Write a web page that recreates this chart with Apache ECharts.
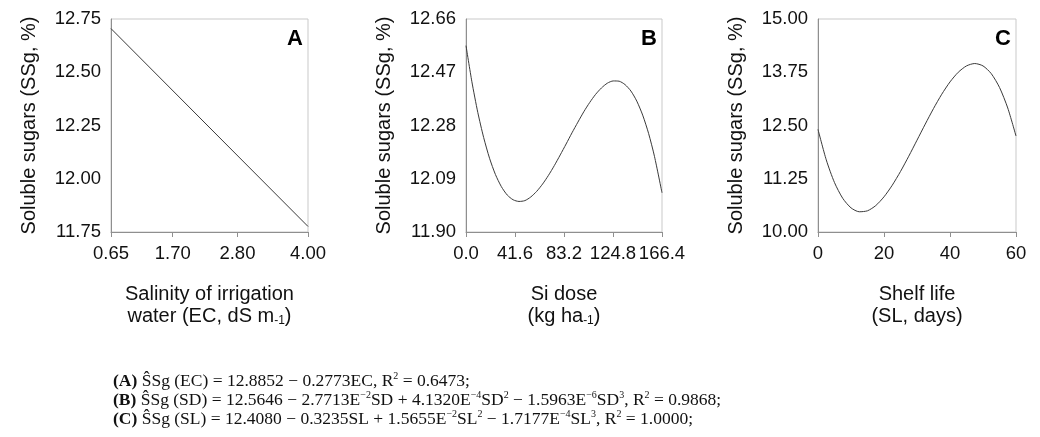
<!DOCTYPE html>
<html>
<head>
<meta charset="utf-8">
<style>
  html, body { margin: 0; padding: 0; background: #fff; }
  #main { width: 1040px; height: 437px; }
</style>
<script src="https://cdn.jsdelivr.net/npm/echarts@6/dist/echarts.min.js"></script>
</head>
<body>
<div id="main"></div>
<script>
// Panel A: salinity of irrigation water (EC, dS m-1)
const ecValues = [0.65, 4.00];
const ecSugar = [12.705, 11.776];
const ecTicksX = [0.65, 1.70, 2.80, 4.00];
const ecTicksY = [11.75, 12.00, 12.25, 12.50, 12.75];

// Panel B: Si dose (kg ha-1)
const siDose = [0, 5, 10, 15, 20, 25, 30, 35, 40, 45, 50, 55, 60, 65, 70, 75, 80, 85,
                90, 95, 100, 105, 110, 115, 120, 125, 130, 135, 140, 145, 150, 155, 160, 166.4];
const siSugar = [12.565, 12.436, 12.327, 12.237, 12.163, 12.105, 12.062, 12.032, 12.015, 12.009,
                 12.012, 12.025, 12.045, 12.071, 12.102, 12.137, 12.175, 12.214, 12.254, 12.292,
                 12.329, 12.362, 12.391, 12.414, 12.431, 12.439, 12.438, 12.426, 12.403, 12.367,
                 12.317, 12.252, 12.170, 12.040];
const siTicksX = [0, 41.6, 83.2, 124.8, 166.4];
const siTicksY = [11.90, 12.09, 12.28, 12.47, 12.66];

// Panel C: shelf life (SL, days)
const shelfDays = [0, 2.5, 5, 7.5, 10, 12.5, 15, 17.5, 20, 22.5, 25, 27.5, 30, 32.5, 35,
                   37.5, 40, 42.5, 45, 47.5, 50, 52.5, 55, 57.5, 60];
const shelfSugar = [12.408, 11.694, 11.160, 10.790, 10.567, 10.475, 10.498, 10.620, 10.826,
                    11.098, 11.421, 11.779, 12.155, 12.533, 12.898, 13.234, 13.523, 13.750,
                    13.899, 13.955, 13.899, 13.718, 13.394, 12.911, 12.254];
const shelfTicksX = [0, 20, 40, 60];
const shelfTicksY = [10.00, 11.25, 12.50, 13.75, 15.00];

const panelLetters = ['A', 'B', 'C'];
const yTitle = 'Soluble sugars (SSg, %)';
const xTitles = [
  'Salinity of irrigation\nwater (EC, dS m{sup|-1})',
  'Si dose\n(kg ha{sup|-1})',
  'Shelf life\n(SL, days)'
];

const SANS = 'Liberation Sans, Arial, sans-serif';
const SERIF = 'Liberation Serif, Times New Roman, serif';

const grids = [
  { left: 111, top: 19, width: 197, height: 213 },
  { left: 466, top: 19, width: 196, height: 213 },
  { left: 818, top: 19, width: 198, height: 213 }
];

const panels = [
  { x: ecValues, y: ecSugar, tx: ecTicksX, ty: ecTicksY, dx: 2, dy: 2 },
  { x: siDose, y: siSugar, tx: siTicksX, ty: siTicksY, dx: 1, dy: 2 },
  { x: shelfDays, y: shelfSugar, tx: shelfTicksX, ty: shelfTicksY, dx: 0, dy: 2 }
];

const option = {
  animation: false,
  backgroundColor: '#fff',
  grid: grids.map(g => Object.assign({
    show: true, borderColor: '#c9c9c9', borderWidth: 1, backgroundColor: 'transparent'
  }, g)),
  xAxis: panels.map((p, i) => ({
    type: 'value',
    gridIndex: i,
    min: p.tx[0],
    max: p.tx[p.tx.length - 1],
    axisLine: { show: true, lineStyle: { color: '#8f8f8f', width: 1 } },
    axisTick: { show: true, inside: false, length: 5, customValues: p.tx,
                lineStyle: { color: '#8f8f8f' } },
    axisLabel: {
      customValues: p.tx, margin: 12, color: '#111', fontSize: 18.5, fontFamily: SANS,
      formatter: v => Number(v).toFixed(p.dx)
    },
    splitLine: { show: false },
    name: xTitles[i],
    nameLocation: 'middle',
    nameGap: 51,
    nameTextStyle: {
      color: '#111', fontSize: 20, fontFamily: SANS, lineHeight: 22,
      rich: { sup: { fontSize: 12, fontFamily: SANS, color: '#111', verticalAlign: 'bottom', lineHeight: 17 } }
    }
  })),
  yAxis: panels.map((p, i) => ({
    type: 'value',
    gridIndex: i,
    min: p.ty[0],
    max: p.ty[p.ty.length - 1],
    axisLine: { show: true, lineStyle: { color: '#8f8f8f', width: 1 } },
    axisTick: { show: false },
    axisLabel: {
      customValues: p.ty, margin: 10, color: '#111', fontSize: 18.5, fontFamily: SANS,
      formatter: v => Number(v).toFixed(p.dy)
    },
    splitLine: { show: false },
    name: yTitle,
    nameLocation: 'middle',
    nameGap: 72,
    nameTextStyle: { color: '#111', fontSize: 20, fontFamily: SANS }
  })),
  series: panels.map((p, i) => ({
    type: 'line',
    xAxisIndex: i,
    yAxisIndex: i,
    data: p.x.map((x, k) => [x, p.y[k]]),
    smooth: i > 0 ? 0.25 : false,
    showSymbol: false,
    lineStyle: { color: '#3a3a3a', width: 1 },
    silent: true
  })),
  graphic: []
};

// Panel letters in the upper-right corner of each plot
grids.forEach((g, i) => {
  option.graphic.push({
    type: 'text',
    right: 1040 - (g.left + g.width) + 5,
    top: g.top + 9,
    style: { text: panelLetters[i], fontSize: 22, fontWeight: 'bold', fontFamily: SANS, fill: '#000' }
  });
});

// Fitted regression equations beneath the panels
const eqRich = {
  b: { fontWeight: 'bold', fontSize: 17.5, fontFamily: SERIF, fill: '#111', lineHeight: 20 },
  s: { fontSize: 10, fontFamily: SERIF, fill: '#111', verticalAlign: 'top', lineHeight: 11 }
};
const equations = [
  '{b|(A)} ŜSg (EC) = 12.8852 − 0.2773EC, R{s|2} = 0.6473;',
  '{b|(B)} ŜSg (SD) = 12.5646 − 2.7713E{s|−2}SD + 4.1320E{s|−4}SD{s|2} − 1.5963E{s|−6}SD{s|3}, R{s|2} = 0.9868;',
  '{b|(C)} ŜSg (SL) = 12.4080 − 0.3235SL + 1.5655E{s|−2}SL{s|2} − 1.7177E{s|−4}SL{s|3}, R{s|2} = 1.0000;'
];
const eqCenters = [381, 400, 419];
equations.forEach((t, i) => {
  option.graphic.push({
    type: 'text',
    x: 113,
    y: eqCenters[i],
    style: {
      text: t, rich: eqRich, fontSize: 17.5, fontFamily: SERIF, fill: '#111',
      lineHeight: 20, verticalAlign: 'middle', align: 'left'
    }
  });
});

const chart = echarts.init(document.getElementById('main'), null, { renderer: 'canvas' });
chart.setOption(option);
</script>
</body>
</html>
